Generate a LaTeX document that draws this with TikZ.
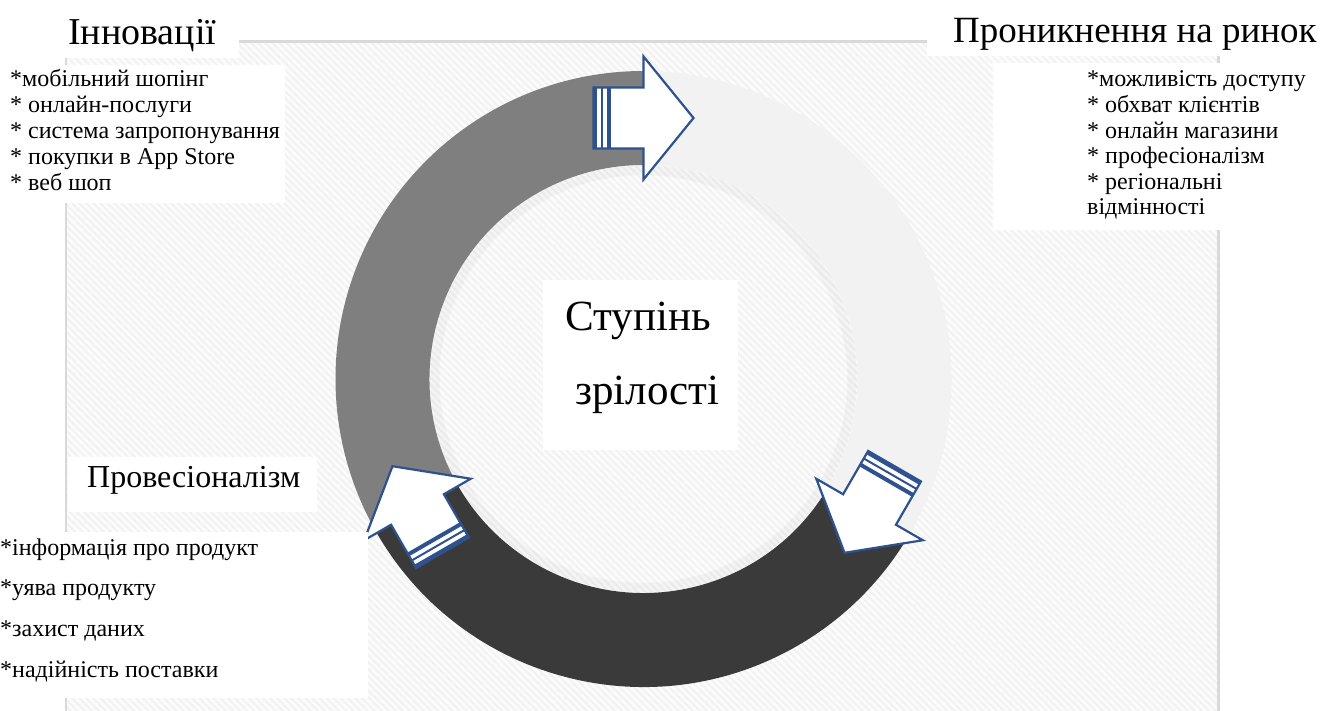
\documentclass[tikz,border=0pt]{standalone}
\usepackage{fontspec}
\setmainfont{Liberation Serif}
\usetikzlibrary{patterns.meta}

\definecolor{ringlight}{HTML}{F2F2F2}
\definecolor{ringmid}{HTML}{7F7F7F}
\definecolor{ringdark}{HTML}{3A3A3A}
\definecolor{arrowblue}{HTML}{2F528F}
\definecolor{framegray}{HTML}{D9D9D9}
\definecolor{hatchbase}{HTML}{FCFCFC}
\definecolor{hatchline}{HTML}{F2F2F2}

\tikzset{
  title/.style={font=\fontsize{38}{42}\selectfont, inner sep=0pt, anchor=base west},
  subtitle/.style={font=\fontsize{32}{36}\selectfont, inner sep=0pt, anchor=base west},
  centre/.style={font=\fontsize{43}{48}\selectfont, inner sep=0pt, anchor=base west},
  item/.style={font=\fontsize{24}{27}\selectfont, inner sep=0pt, anchor=base west},
  textbox/.style={fill=white},
  % striped block arrow; origin at the middle of the head base, pointing along +x
  pics/stripearrow/.style={code={
    \filldraw[fill=white, draw=arrowblue, line width=2.2pt, line join=miter]
      (-50,-30.5) -- (0,-30.5) -- (0,-61.5) -- (50,0) -- (0,61.5)
      -- (0,30.5) -- (-50,30.5) -- cycle;
    \fill[arrowblue] (-50,-30.5) rectangle (-46.3,30.5);
    \fill[arrowblue] (-42.3,-30.5) rectangle (-40.3,30.5);
    \fill[arrowblue] (-36.3,-30.5) rectangle (-32.3,30.5);
  }}
}

\begin{document}
\begin{tikzpicture}[x=1pt,y=-1pt]
\useasboundingbox (0,0) rectangle (1322,711);
\fill[white] (0,0) rectangle (1322,711);

% hatched backdrop with its frame
\fill[hatchbase] (66,41) rectangle (1219,711);
\fill[pattern={Lines[angle=-45,distance=5pt,line width=2pt]}, pattern color=hatchline]
  (66,41) rectangle (1219,711);
\draw[framegray, line width=2.5pt] (66,712) -- (66,41.5) -- (1218.5,41.5) -- (1218.5,712);

% the cycle ring
\begin{scope}[shift={(643.5,379)}, yscale=-1]
  \foreach \k in {1,...,8}
    \draw[black, opacity=0.025, line width=1.5pt] (0,0) circle[radius=214-\k*1.2];
  \fill[ringlight] (-30:308) arc[start angle=-30, end angle=90, radius=308]
    -- (90:214) arc[start angle=90, end angle=-30, radius=214] -- cycle;
  \fill[ringmid] (90:308) arc[start angle=90, end angle=210, radius=308]
    -- (210:214) arc[start angle=210, end angle=90, radius=214] -- cycle;
  \fill[ringdark] (210:308) arc[start angle=210, end angle=330, radius=308]
    -- (330:214) arc[start angle=330, end angle=210, radius=214] -- cycle;
  \pic[rotate=0] at (90:261) {stripearrow};
  \pic[rotate=-120] at (-30:261) {stripearrow};
  \pic[rotate=120] at (210:261) {stripearrow};
\end{scope}

% white text panels
\fill[textbox] (0,0) rectangle (239,58);
\fill[textbox] (0,65) rectangle (285,203);
\fill[textbox] (927,0) rectangle (1322,56);
\fill[textbox] (993,63) rectangle (1322,230);
\fill[textbox] (68,457) rectangle (317,512);
\fill[textbox] (0,532) rectangle (368,698);
\fill[textbox] (543,280) rectangle (738,450);

% headings
\node[title] (innov) at (68,45) {Інновації};
\node[title, font=\fontsize{37}{41}\selectfont] (market) at (953,43) {Проникнення на ринок};
\node[subtitle] (prof) at (87,487) {Провесіоналізм};
\node[centre] (stage) at (565,330) {Ступінь};
\node[centre] (mature) at (575,404) {зрілості};

% item lists
\foreach \txt [count=\i] in {{*мобільний шопінг},{* онлайн-послуги},{* система запропонування},{* покупки в App Store},{* веб шоп}}
  \node[item] (innov\i) at (10,{61.2+25.8*\i}) {\txt};
\foreach \txt [count=\i] in {{*можливість доступу},{* обхват клієнтів},{* онлайн магазини},{* професіоналізм},{* регіональні},{відмінності}}
  \node[item] (market\i) at (1087,{61.4+25.6*\i}) {\txt};
\foreach \txt [count=\i] in {{*інформація про продукт},{*уява продукту},{*захист даних},{*надійність поставки}}
  \node[item] (prof\i) at (0,{514.3+40.7*\i}) {\txt};
\end{tikzpicture}
\end{document}
